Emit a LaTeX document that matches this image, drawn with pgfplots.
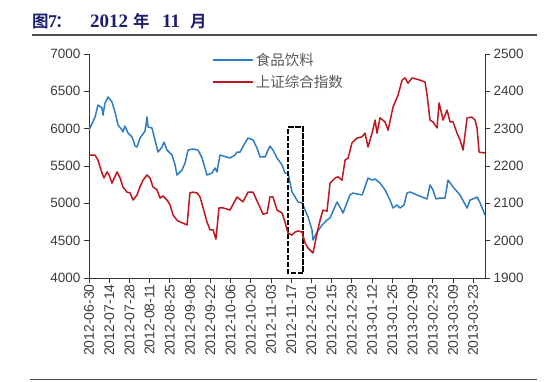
\documentclass[border=0pt]{standalone}
\usepackage{pgfplots}
\pgfplotsset{compat=1.18}
\usepackage{fontspec}
\setmainfont{Liberation Sans}
\newfontfamily\cjk{Noto Sans CJK SC}
\newfontfamily\cjkb{Noto Sans CJK SC Bold}
\newfontfamily\titleserif{Liberation Serif}
\definecolor{fblue}{RGB}{46,125,196}
\definecolor{sred}{RGB}{192,22,30}
\definecolor{tnavy}{RGB}{30,30,110}
\definecolor{tickgray}{RGB}{60,60,60}
\begin{document}
\begin{tikzpicture}[x=1bp,y=1bp]
\useasboundingbox (0,0) rectangle (554,-381);
% title
\node[anchor=base west, inner sep=0pt, text=tnavy, font=\cjkb\fontsize{16.5bp}{17bp}\selectfont] at (32,-27) {图};
\node[anchor=base west, inner sep=0pt, text=tnavy, font=\titleserif\bfseries\fontsize{18bp}{18bp}\selectfont] at (48,-27) {7};
\node[anchor=base west, inner sep=0pt, text=tnavy, font=\cjkb\fontsize{16.5bp}{17bp}\selectfont] at (55,-27) {：};
\node[anchor=base west, inner sep=0pt, text=tnavy, font=\titleserif\bfseries\fontsize{19bp}{19bp}\selectfont] at (90,-27) {2012};
\node[anchor=base west, inner sep=0pt, text=tnavy, font=\cjkb\fontsize{16.5bp}{17bp}\selectfont] at (133,-27) {年};
\node[anchor=base west, inner sep=0pt, text=tnavy, font=\titleserif\bfseries\fontsize{19bp}{19bp}\selectfont] at (162,-27) {11};
\node[anchor=base west, inner sep=0pt, text=tnavy, font=\cjkb\fontsize{16.5bp}{17bp}\selectfont] at (190,-27) {月};
\draw[line width=1.3bp, black!70] (32,-35) -- (537,-35);
\draw[line width=1.3bp, black!70] (30,-379.5) -- (537,-379.5);

\begin{axis}[
  at={(89bp,-278bp)}, anchor=south west,
  scale only axis, width=396bp, height=224bp,
  xmin=0, xmax=274.2, ymin=4000, ymax=7000,
  axis y line*=left, axis x line*=bottom,
  axis line style={black!80, line width=0.8bp, -},
  tick align=outside, major tick length=5bp,
  tick style={black!80, line width=0.8bp},
  xtick={0,14,...,266},
  xticklabels={2012-06-30,2012-07-14,2012-07-28,2012-08-11,2012-08-25,2012-09-08,2012-09-22,2012-10-06,2012-10-20,2012-11-03,2012-11-17,2012-12-01,2012-12-15,2012-12-29,2013-01-12,2013-01-26,2013-02-09,2013-02-23,2013-03-09,2013-03-23},
  x tick label style={rotate=90, anchor=east, font=\fontsize{14bp}{14bp}\selectfont, text=tickgray, inner sep=1bp},
  ytick={4000,4500,...,7000},
  y tick label style={font=\fontsize{13.5bp}{14bp}\selectfont, text=tickgray},
  /pgf/number format/.cd, 1000 sep={}, assume math mode=true,
]
\addplot[fblue, line width=1.5bp, line join=round] coordinates {
(0,5982)(4.2,6156)(6.2,6317)(9.0,6277)(9.7,6183)(11.1,6344)(13.2,6424)(15.9,6357)(18.0,6223)(20.1,6049)(22.9,5982)(23.5,5955)(24.9,6036)(27.0,5942)(29.8,5888)(31.9,5768)(33.2,5754)(35.3,5875)(38.8,5969)(40.2,6156)(40.9,6022)(43.6,6009)(44.3,5955)(47.8,5687)(50.6,5754)(51.9,5821)(54.0,5714)(57.5,5647)(59.6,5513)(60.9,5379)(64.4,5446)(66.5,5540)(68.6,5714)(72.0,5728)(75.5,5714)(78.3,5607)(81.7,5379)(85.2,5406)(87.3,5473)(88.6,5420)(90.7,5647)(97.6,5607)(101.1,5647)(102.5,5687)(104.6,5687)(108.0,5808)(110.1,5875)(113.6,5848)(116.3,5741)(118.4,5621)(121.9,5621)(125.3,5768)(127.4,5714)(130.2,5607)(133.7,5513)(135.7,5406)(137.8,5406)(140.6,5152)(142.7,5085)(144.7,5018)(147.5,5005)(149.6,4911)(151.7,4817)(154.4,4643)(155.1,4509)(157.9,4616)(161.4,4710)(164.8,4777)(166.9,4804)(171.7,5018)(173.8,4951)(175.9,4871)(180.7,5112)(182.8,5138)(189.1,5112)(191.1,5219)(193.2,5339)(196.0,5312)(198.1,5326)(201.5,5272)(205.0,5179)(208.4,5045)(210.5,4937)(213.3,4978)(215.4,4937)(218.1,4978)(220.2,5138)(222.3,5152)(227.1,5112)(234.1,5058)(236.1,5246)(238.2,5179)(240.3,5058)(243.1,5071)(246.5,5071)(248.6,5312)(252.1,5219)(256.9,5112)(261.8,4937)(263.9,5045)(267.3,5071)(268.7,5085)(270.8,5005)(274.2,4844)
};
\addplot[black, line width=1.4bp, dash pattern=on 5.5bp off 1.5bp] coordinates {
(137.8,6022)(148.2,6022)(148.2,4067)(137.8,4067)(137.8,6022)
};
\end{axis}

\begin{axis}[
  at={(89bp,-278bp)}, anchor=south west,
  scale only axis, width=396bp, height=224bp,
  xmin=0, xmax=274.2, ymin=1900, ymax=2500,
  axis y line*=right, axis x line=none,
  axis line style={black!80, line width=0.8bp, -},
  tick align=outside, major tick length=5bp,
  tick style={black!80, line width=0.8bp},
  ytick={1900,2000,...,2500},
  y tick label style={font=\fontsize{13.5bp}{14bp}\selectfont, text=tickgray},
  legend image code/.code={\draw[#1] (0bp,0bp) -- (40bp,0bp);},
  legend style={at={(0.31,1.013)}, anchor=north west, draw=none, fill=none,
    inner sep=0pt, row sep=4bp, font=\cjk\fontsize{14.5bp}{15bp}\selectfont, text=black!65,
    /tikz/every even column/.append style={column sep=4bp}},
  legend cell align=left,
  /pgf/number format/.cd, 1000 sep={}, assume math mode=true,
]
\addlegendimage{fblue, line width=2bp}
\addlegendentry{食品饮料}
\addplot[sred, line width=1.5bp, line join=round] coordinates {
(0,2229)(4.2,2229)(6.2,2216)(9.0,2181)(10.4,2168)(12.5,2184)(13.9,2176)(15.9,2154)(19.4,2184)(21.5,2168)(23.5,2144)(26.3,2130)(28.4,2128)(30.5,2109)(33.2,2122)(35.3,2144)(37.4,2162)(40.2,2176)(42.2,2168)(44.3,2144)(47.1,2136)(49.2,2114)(51.2,2120)(54.0,2109)(56.1,2096)(58.2,2069)(60.9,2055)(63.0,2050)(65.1,2047)(67.9,2042)(69.9,2128)(72.0,2130)(74.8,2128)(76.9,2117)(79.0,2088)(81.7,2050)(83.8,2029)(85.9,2029)(87.9,2004)(90.0,2088)(92.8,2088)(97.6,2082)(102.5,2117)(106.6,2104)(110.1,2130)(113.6,2130)(117.0,2101)(120.5,2071)(123.3,2074)(125.3,2117)(127.4,2117)(130.2,2082)(133.7,2074)(135.7,2050)(137.8,2020)(140.6,2015)(142.7,2023)(144.7,2026)(147.5,2023)(149.6,1994)(151.7,1980)(155.1,1967)(157.9,2020)(160.0,2055)(162.0,2082)(164.8,2079)(166.9,2154)(170.4,2168)(172.4,2171)(175.2,2162)(177.3,2216)(179.4,2221)(182.1,2262)(185.6,2275)(189.1,2278)(191.1,2288)(193.2,2251)(196.0,2288)(198.1,2323)(199.4,2288)(201.5,2329)(205.0,2318)(207.1,2296)(210.5,2358)(214.0,2390)(216.8,2430)(218.8,2436)(220.9,2422)(223.7,2436)(229.2,2430)(232.7,2425)(234.1,2390)(236.1,2323)(238.2,2318)(241.0,2302)(242.4,2369)(245.2,2323)(247.9,2350)(250.0,2318)(252.1,2318)(254.8,2288)(256.9,2270)(259.0,2243)(261.8,2329)(265.2,2331)(267.3,2323)(268.7,2302)(270.1,2237)(274.2,2235)
};
\addlegendentry{上证综合指数}
\end{axis}
\end{tikzpicture}
\end{document}
